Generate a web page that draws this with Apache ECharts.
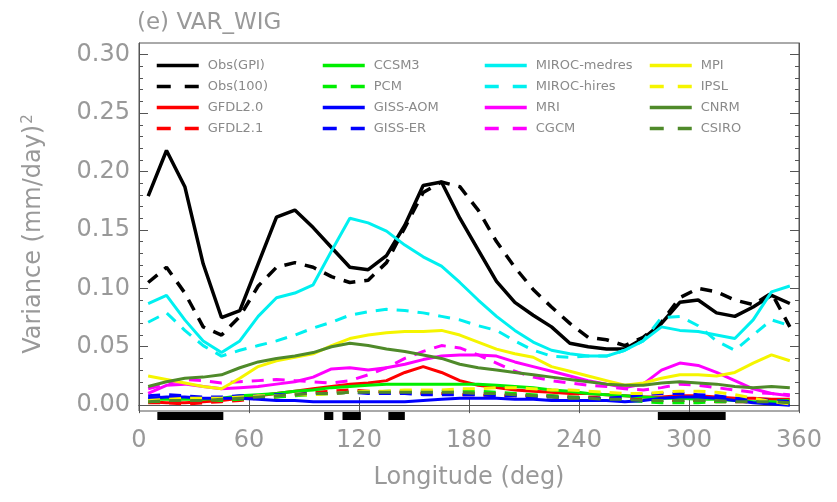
<!DOCTYPE html>
<html>
<head>
<meta charset="utf-8">
<title>VAR_WIG</title>
<script src="https://cdn.jsdelivr.net/npm/echarts@6/dist/echarts.min.js"></script>
<style>
  html, body { margin: 0; padding: 0; background: #ffffff; }
  #chart { width: 837px; height: 502px; }
</style>
</head>
<body>
<div id="chart"></div>
<script>
// Longitude bin centres (deg)
const lon = [5, 15, 25, 35, 45, 55, 65, 75, 85, 95, 105, 115, 125, 135, 145, 155, 165, 175,
             185, 195, 205, 215, 225, 235, 245, 255, 265, 275, 285, 295, 305, 315, 325, 335, 345, 355];

// Variance of the westward inertio-gravity band, (mm/day)^2
const obsGPI = [0.179, 0.218, 0.187, 0.121, 0.075, 0.081, 0.121, 0.161, 0.167, 0.152, 0.135, 0.118,
                0.116, 0.128, 0.154, 0.188, 0.191, 0.160, 0.133, 0.106, 0.088, 0.077, 0.067, 0.053,
                0.050, 0.048, 0.048, 0.057, 0.070, 0.088, 0.090, 0.079, 0.076, 0.084, 0.094, 0.087];
const obs1DD = [0.105, 0.118, 0.096, 0.067, 0.060, 0.076, 0.102, 0.118, 0.122, 0.118, 0.110, 0.105,
                0.107, 0.122, 0.152, 0.182, 0.191, 0.187, 0.167, 0.140, 0.118, 0.099, 0.084, 0.070,
                0.058, 0.056, 0.051, 0.058, 0.071, 0.092, 0.100, 0.097, 0.090, 0.086, 0.096, 0.067];
const gfdl20 = [0.003, 0.002, 0.002, 0.003, 0.004, 0.006, 0.008, 0.010, 0.012, 0.014, 0.016, 0.018,
                0.019, 0.021, 0.028, 0.033, 0.028, 0.021, 0.017, 0.015, 0.013, 0.012, 0.011, 0.010,
                0.010, 0.009, 0.008, 0.007, 0.007, 0.008, 0.008, 0.007, 0.006, 0.006, 0.005, 0.005];
const gfdl21 = [0.002, 0.002, 0.001, 0.002, 0.003, 0.004, 0.006, 0.007, 0.009, 0.011, 0.012, 0.013,
                0.012, 0.011, 0.011, 0.010, 0.010, 0.009, 0.009, 0.008, 0.008, 0.008, 0.008, 0.007,
                0.007, 0.006, 0.005, 0.005, 0.004, 0.004, 0.004, 0.003, 0.003, 0.003, 0.002, 0.002];
const ccsm3 =  [0.005, 0.005, 0.005, 0.005, 0.006, 0.008, 0.009, 0.010, 0.012, 0.013, 0.015, 0.016,
                0.017, 0.018, 0.018, 0.018, 0.018, 0.018, 0.018, 0.017, 0.016, 0.015, 0.013, 0.012,
                0.010, 0.009, 0.008, 0.007, 0.006, 0.006, 0.005, 0.005, 0.004, 0.003, 0.003, 0.002];
const pcm =    [0.003, 0.004, 0.004, 0.005, 0.004, 0.005, 0.006, 0.007, 0.008, 0.009, 0.010, 0.011,
                0.011, 0.012, 0.012, 0.012, 0.012, 0.012, 0.012, 0.011, 0.010, 0.009, 0.008, 0.007,
                0.006, 0.005, 0.004, 0.003, 0.002, 0.002, 0.002, 0.003, 0.003, 0.004, 0.004, 0.004];
const gissAOM = [0.006, 0.007, 0.007, 0.006, 0.006, 0.006, 0.005, 0.004, 0.004, 0.003, 0.003, 0.003,
                 0.003, 0.003, 0.003, 0.004, 0.005, 0.006, 0.006, 0.006, 0.005, 0.005, 0.004, 0.004,
                 0.004, 0.004, 0.003, 0.004, 0.006, 0.007, 0.007, 0.006, 0.004, 0.002, 0.001, 0.000];
const gissER = [0.008, 0.009, 0.008, 0.007, 0.007, 0.008, 0.008, 0.009, 0.009, 0.010, 0.010, 0.011,
                0.010, 0.010, 0.010, 0.009, 0.009, 0.009, 0.009, 0.008, 0.008, 0.007, 0.007, 0.006,
                0.006, 0.006, 0.007, 0.009, 0.010, 0.010, 0.009, 0.008, 0.006, 0.005, 0.004, 0.003];
const mirocMed = [0.087, 0.094, 0.073, 0.055, 0.045, 0.055, 0.076, 0.092, 0.096, 0.103, 0.132, 0.160,
                  0.156, 0.149, 0.137, 0.127, 0.119, 0.105, 0.090, 0.076, 0.064, 0.054, 0.047, 0.044,
                  0.042, 0.042, 0.047, 0.055, 0.067, 0.064, 0.063, 0.060, 0.057, 0.073, 0.097, 0.102];
const mirocHi = [0.071, 0.079, 0.064, 0.051, 0.042, 0.047, 0.051, 0.055, 0.060, 0.066, 0.071, 0.077,
                 0.080, 0.082, 0.081, 0.079, 0.076, 0.073, 0.068, 0.064, 0.055, 0.047, 0.042, 0.041,
                 0.042, 0.042, 0.047, 0.055, 0.075, 0.076, 0.068, 0.055, 0.047, 0.060, 0.073, 0.068];
const mri =    [0.010, 0.017, 0.018, 0.016, 0.014, 0.015, 0.016, 0.018, 0.020, 0.024, 0.031, 0.032,
                0.030, 0.032, 0.035, 0.039, 0.042, 0.043, 0.043, 0.042, 0.037, 0.033, 0.029, 0.025,
                0.021, 0.018, 0.015, 0.018, 0.030, 0.036, 0.034, 0.028, 0.021, 0.014, 0.010, 0.008];
const cgcm =   [0.014, 0.018, 0.022, 0.021, 0.019, 0.020, 0.021, 0.022, 0.021, 0.020, 0.019, 0.021,
                0.026, 0.032, 0.040, 0.046, 0.051, 0.049, 0.043, 0.036, 0.029, 0.024, 0.021, 0.019,
                0.017, 0.016, 0.014, 0.013, 0.015, 0.018, 0.017, 0.015, 0.013, 0.011, 0.010, 0.009];
const mpi =    [0.025, 0.022, 0.019, 0.016, 0.014, 0.023, 0.033, 0.038, 0.041, 0.044, 0.051, 0.057,
                0.060, 0.062, 0.063, 0.063, 0.064, 0.060, 0.054, 0.048, 0.044, 0.041, 0.033, 0.029,
                0.025, 0.021, 0.017, 0.019, 0.023, 0.026, 0.026, 0.025, 0.028, 0.036, 0.043, 0.038];
const ipsl =   [0.004, 0.005, 0.006, 0.006, 0.006, 0.007, 0.008, 0.008, 0.009, 0.009, 0.010, 0.011,
                0.012, 0.012, 0.013, 0.013, 0.013, 0.014, 0.014, 0.015, 0.015, 0.014, 0.013, 0.013,
                0.012, 0.011, 0.010, 0.010, 0.011, 0.012, 0.012, 0.011, 0.009, 0.006, 0.003, 0.001];
const cnrm =   [0.016, 0.020, 0.023, 0.024, 0.026, 0.032, 0.037, 0.040, 0.042, 0.045, 0.050, 0.053,
                0.051, 0.048, 0.046, 0.043, 0.040, 0.035, 0.032, 0.030, 0.028, 0.026, 0.024, 0.022,
                0.020, 0.018, 0.017, 0.017, 0.019, 0.020, 0.019, 0.018, 0.016, 0.015, 0.016, 0.015];
const csiro =  [0.003, 0.004, 0.004, 0.004, 0.005, 0.006, 0.007, 0.008, 0.009, 0.010, 0.010, 0.011,
                0.011, 0.011, 0.011, 0.011, 0.011, 0.011, 0.010, 0.010, 0.009, 0.008, 0.007, 0.006,
                0.006, 0.005, 0.005, 0.004, 0.004, 0.004, 0.004, 0.004, 0.003, 0.003, 0.003, 0.002];

// Longitude ranges where the difference is significant (deg)
const sigRanges = [[10, 46], [101, 106], [111, 121], [136, 145], [283, 320]];

// Axis tick values
const yMajor = [0.00, 0.05, 0.10, 0.15, 0.20, 0.25, 0.30];
const yMinor = [0.01, 0.02, 0.03, 0.04, 0.06, 0.07, 0.08, 0.09, 0.11, 0.12, 0.13, 0.14,
                0.16, 0.17, 0.18, 0.19, 0.21, 0.22, 0.23, 0.24, 0.26, 0.27, 0.28, 0.29];

const Y_MIN = -0.005, Y_MAX = 0.31;
const FONT = 'DejaVu Sans';
const GREY = '#999999';
const DASH = [12, 9];

const models = [
  { name: 'Obs(GPI)',     vals: obsGPI,   color: '#000000', dashed: false, width: 3.5 },
  { name: 'Obs(100)',     vals: obs1DD,   color: '#000000', dashed: true,  width: 3.5 },
  { name: 'GFDL2.0',      vals: gfdl20,   color: '#ff0000', dashed: false },
  { name: 'GFDL2.1',      vals: gfdl21,   color: '#ff0000', dashed: true },
  { name: 'CCSM3',        vals: ccsm3,    color: '#00ee00', dashed: false },
  { name: 'PCM',          vals: pcm,      color: '#00ee00', dashed: true },
  { name: 'GISS-AOM',     vals: gissAOM,  color: '#0000ff', dashed: false },
  { name: 'GISS-ER',      vals: gissER,   color: '#0000ff', dashed: true },
  { name: 'MIROC-medres', vals: mirocMed, color: '#00f0f0', dashed: false },
  { name: 'MIROC-hires',  vals: mirocHi,  color: '#00f0f0', dashed: true },
  { name: 'MRI',          vals: mri,      color: '#ff00ff', dashed: false },
  { name: 'CGCM',         vals: cgcm,     color: '#ff00ff', dashed: true },
  { name: 'MPI',          vals: mpi,      color: '#f5f500', dashed: false },
  { name: 'IPSL',         vals: ipsl,     color: '#f5f500', dashed: true },
  { name: 'CNRM',         vals: cnrm,     color: '#4f8a2a', dashed: false },
  { name: 'CSIRO',        vals: csiro,    color: '#4f8a2a', dashed: true }
];

const lineSeries = models.map(m => ({
  name: m.name,
  type: 'line',
  xAxisIndex: 0,
  yAxisIndex: 0,
  symbol: 'none',
  showSymbol: false,
  silent: true,
  color: m.color,
  lineStyle: { color: m.color, width: m.width || 3, type: m.dashed ? DASH : 'solid' },
  data: lon.map((x, i) => [x, m.vals[i]]),
  z: 3
}));

// Significance bars just under the frame
const sigSeries = {
  type: 'custom',
  xAxisIndex: 0,
  yAxisIndex: 0,
  silent: true,
  clip: false,
  z: 5,
  data: sigRanges,
  renderItem: function (params, api) {
    const a = api.coord([api.value(0), Y_MIN]);
    const b = api.coord([api.value(1), Y_MIN]);
    return {
      type: 'rect',
      shape: { x: a[0], y: a[1] + 1, width: b[0] - a[0], height: 8 },
      style: { fill: '#000000' }
    };
  }
};

// Legend: four columns of four entries, line samples only
const legendCols = [models.slice(0, 4), models.slice(4, 8), models.slice(8, 12), models.slice(12, 16)];
const legendLeft = [150, 316, 478, 643];
const legends = legendCols.map((col, k) => ({
  orient: 'vertical',
  left: legendLeft[k],
  top: 54,
  itemWidth: 42,
  itemHeight: 14,
  itemGap: 8,
  selectedMode: false,
  itemStyle: { opacity: 0, borderWidth: 0 },
  textStyle: { fontFamily: FONT, fontSize: 13, color: '#8a8a8a', padding: [0, 0, 0, 4] },
  data: col.map(m => ({
    name: m.name,
    itemStyle: { opacity: 0, borderWidth: 0 },
    lineStyle: { color: m.color, width: 3.5, type: m.dashed ? [14, 14] : 'solid', opacity: 1 }
  }))
}));

const tickLine = { color: '#555555', width: 1 };

const option = {
  animation: false,
  backgroundColor: '#ffffff',
  grid: {
    left: 139, right: 38, top: 43, bottom: 91,
    show: true, borderColor: '#555555', borderWidth: 1, backgroundColor: 'transparent'
  },
  legend: legends,
  xAxis: [
    {
      type: 'value', min: 0, max: 360, interval: 60, position: 'bottom',
      axisLine: { show: true, lineStyle: tickLine },
      axisTick: { show: true, inside: true, length: 8, lineStyle: tickLine },
      axisLabel: { show: true, margin: 18, fontFamily: FONT, fontSize: 24, color: GREY },
      splitLine: { show: false },
      name: 'Longitude (deg)', nameLocation: 'middle', nameGap: 55,
      nameTextStyle: { fontFamily: FONT, fontSize: 24, color: GREY }
    },
    {
      type: 'value', min: 0, max: 360, interval: 60, position: 'top',
      axisLine: { show: true, lineStyle: tickLine },
      axisTick: { show: true, inside: true, length: 8, lineStyle: tickLine },
      axisLabel: { show: false },
      splitLine: { show: false }
    }
  ],
  yAxis: [
    {
      type: 'value', min: Y_MIN, max: Y_MAX, position: 'left',
      axisLine: { show: true, lineStyle: tickLine },
      axisTick: { show: true, inside: true, length: 9, lineStyle: tickLine, customValues: yMajor },
      axisLabel: {
        show: true, margin: 9, fontFamily: FONT, fontSize: 24, color: GREY,
        customValues: yMajor, formatter: v => v.toFixed(2)
      },
      splitLine: { show: false }
    },
    {
      type: 'value', min: Y_MIN, max: Y_MAX, position: 'left',
      axisLine: { show: false },
      axisTick: { show: true, inside: true, length: 4, lineStyle: tickLine, customValues: yMinor },
      axisLabel: { show: false, customValues: yMinor },
      splitLine: { show: false }
    },
    {
      type: 'value', min: Y_MIN, max: Y_MAX, position: 'right',
      axisLine: { show: true, lineStyle: tickLine },
      axisTick: { show: true, inside: true, length: 9, lineStyle: tickLine, customValues: yMajor },
      axisLabel: { show: false, customValues: yMajor },
      splitLine: { show: false }
    },
    {
      type: 'value', min: Y_MIN, max: Y_MAX, position: 'right',
      axisLine: { show: false },
      axisTick: { show: true, inside: true, length: 4, lineStyle: tickLine, customValues: yMinor },
      axisLabel: { show: false, customValues: yMinor },
      splitLine: { show: false }
    }
  ],
  graphic: [
    {
      type: 'text', x: 137, y: 23,
      style: { text: '(e) VAR_WIG', fontFamily: FONT, fontSize: 23, fill: GREY, verticalAlign: 'middle', align: 'left' }
    },
    {
      type: 'text', x: 34, y: 234, rotation: Math.PI / 2,
      style: {
        text: '{a|Variance (mm/day)}{s|2}',
        align: 'center', verticalAlign: 'middle', fill: GREY,
        rich: {
          a: { fontFamily: FONT, fontSize: 24, fill: GREY },
          s: { fontFamily: FONT, fontSize: 15, fill: GREY, verticalAlign: 'top', padding: [0, 0, 12, 1] }
        }
      }
    }
  ],
  series: lineSeries.concat([sigSeries])
};

const chart = echarts.init(document.getElementById('chart'), null, { renderer: 'canvas' });
chart.setOption(option);
</script>
</body>
</html>
